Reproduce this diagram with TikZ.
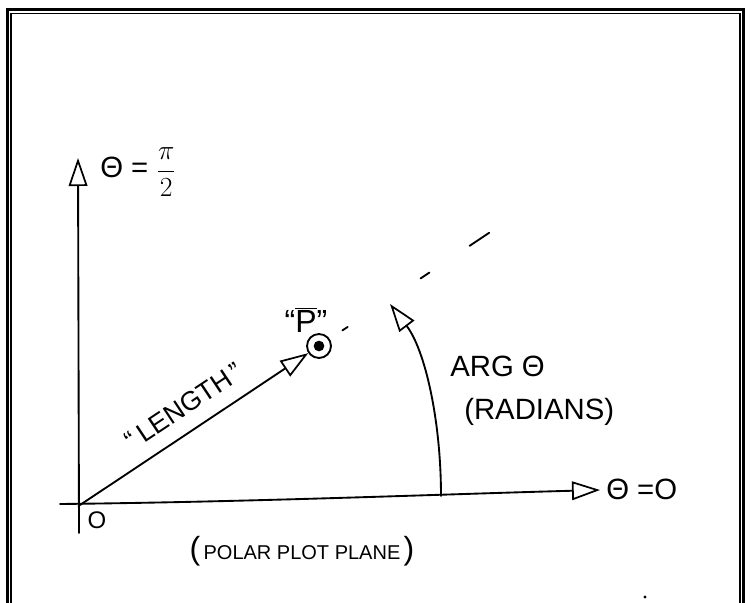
\documentclass[tikz,border=0pt]{standalone}
\usepackage{fontspec}
\setmainfont{Liberation Sans}
\usetikzlibrary{arrows.meta,calc}
\begin{document}
\begin{tikzpicture}[x=0.75pt,y=-0.75pt,
  ink/.style={line width=1.4pt,line cap=round,line join=round},
  opentip/.style={-{Triangle[open,length=21pt,width=14pt,line width=1.3pt]}},
  lbl/.style={inner sep=0pt,font=\fontsize{22}{24}\selectfont}]
\useasboundingbox (0,0) rectangle (751,603);
% frame
\draw[line width=1.7pt] (7.5,606) -- (7.5,9.5) -- (743.5,9.5) -- (743.5,606);
\draw[line width=1.2pt] (11,606) -- (11,13.5) -- (740,13.5) -- (740,606);
% coordinates
\coordinate (O) at (80,505);
\coordinate (ybot) at (79,533);
\coordinate (ytop) at (78,158);
\coordinate (xleft) at (60,504);
\coordinate (xright) at (600,490);
\coordinate (arcstart) at (441,496);
\coordinate (arcend) at (390,304);
% point P
\node[circle,draw,ink,minimum size=18pt,inner sep=0pt] (P) at (319,346) {};
\fill (P) circle (4pt);
% axes
\draw[ink,opentip] (ybot) -- (ytop);
\draw[ink,opentip] (xleft) .. controls (250,502) and (450,494) .. (xright);
% vector
\draw[ink,opentip] (O) -- (P);
% dashed extension
\draw[ink] ($(O)!1.098!(P)$) -- ($(O)!1.120!(P)$);
\draw[ink] ($(O)!1.425!(P)$) -- ($(O)!1.462!(P)$);
\draw[ink] ($(O)!1.630!(P)$) -- ($(O)!1.712!(P)$);
% arc arrow
\draw[ink,opentip] (arcstart) .. controls (441,420) and (425,350) .. (arcend);
% labels
\node[lbl,anchor=west] (l90) at (100,172) {Θ = $\displaystyle\frac{\pi}{2}$};
\node[lbl,anchor=west] (l0) at (606,489) {Θ =O};
\node[lbl,font=\fontsize{24}{26}\selectfont] (lP) at (306,320) {``$\overline{\hbox{P}}$''};
\node[lbl,font=\fontsize{20}{22}\selectfont,rotate=33.6] (lL) at (184,406) {``\,LENGTH\,''};
\node[lbl,anchor=west] (lArg) at (450,366) {ARG Θ};
\node[lbl,anchor=west] (lRad) at (464,412) {(RADIANS)};
\node[lbl,font=\fontsize{15}{17}\selectfont] (lPlane) at (302,551) {{\fontsize{24}{24}\selectfont(}\,POLAR PLOT PLANE\,{\fontsize{24}{24}\selectfont)}};
\node[lbl,font=\fontsize{18}{20}\selectfont] (lO) at (97,520) {O};
\fill (645,597) circle (1.2pt);
\end{tikzpicture}
\end{document}
